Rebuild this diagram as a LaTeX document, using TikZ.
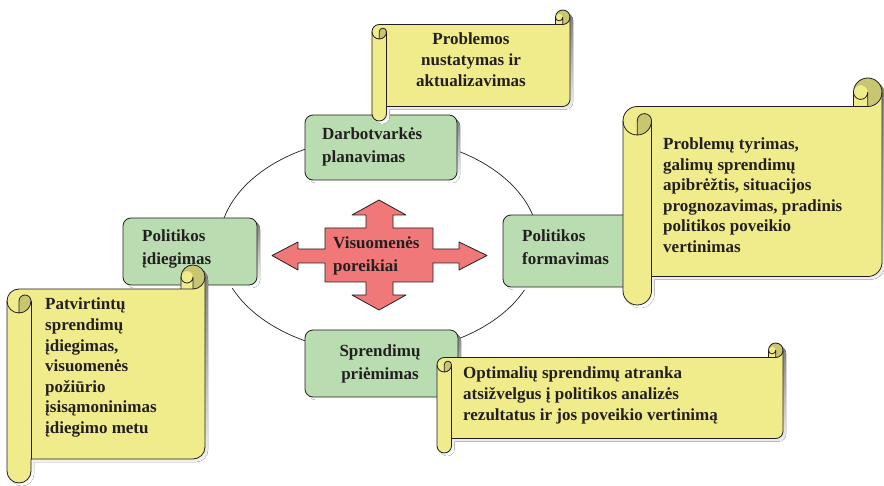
\documentclass[tikz,border=0pt]{standalone}
\usepackage{fontspec}
\setmainfont{Liberation Serif}
\definecolor{ink}{HTML}{231F20}
\definecolor{leaf}{HTML}{B9DDB1}
\definecolor{paper}{HTML}{F0EC8C}
\definecolor{paperdark}{HTML}{C9C671}
\definecolor{shade}{HTML}{8A8A8A}
\definecolor{alarm}{HTML}{F07878}

% Horizontal scroll: #1 left, #2 top, #3 right, #4 bottom, #5 roll diameter
\newcommand\drawscroll[5]{%
  \pgfmathsetmacro\scL{#1}\pgfmathsetmacro\scT{#2}%
  \pgfmathsetmacro\scR{#3}\pgfmathsetmacro\scB{#4}%
  \pgfmathsetmacro\scC{#5}%
  \pgfmathsetmacro\scH{\scC/2}\pgfmathsetmacro\scQ{\scC/4}%
  \pgfmathsetmacro\scXa{\scR-\scC}\pgfmathsetmacro\scXb{\scR-\scH}%
  \pgfmathsetmacro\scLh{\scL+\scH}\pgfmathsetmacro\scLc{\scL+\scC}%
  \pgfmathsetmacro\scTh{\scT+\scH}\pgfmathsetmacro\scTc{\scT+\scC}%
  \pgfmathsetmacro\scYa{\scT+\scC+\scH}\pgfmathsetmacro\scYb{\scT+2*\scC}%
  \pgfmathsetmacro\scYc{\scB-\scC-\scH}\pgfmathsetmacro\scYd{\scB-\scC}%
  \pgfmathsetmacro\scYe{\scB-\scH}%
  \def\scOutline{(\scL,\scYa) arc[start angle=180,end angle=270,radius=\scH]
    -- (\scXa,\scTc) -- (\scXa,\scTh) arc[start angle=180,end angle=360,radius=\scH]
    -- (\scR,\scYc) arc[start angle=0,end angle=90,radius=\scH]
    -- (\scLc,\scYd) -- (\scLc,\scYe) arc[start angle=0,end angle=180,radius=\scH]
    -- cycle}%
  \begin{scope}[shift={(3,3)}]
    \fill[shade] \scOutline;
  \end{scope}
  \fill[paper] \scOutline;
  \fill[paperdark] (\scXb,\scTc) arc[start angle=90,end angle=-180,radius=\scH]
    arc[start angle=180,end angle=360,radius=\scQ] -- cycle;
  \fill[paperdark] (\scLh,\scYb) arc[start angle=90,end angle=0,radius=\scH]
    arc[start angle=0,end angle=-180,radius=\scQ] -- cycle;
  \draw[edge] \scOutline;
  \draw[edge] (\scXa,\scTc) -- (\scXb,\scTc) arc[start angle=90,end angle=0,radius=\scH];
  \draw[edge] (\scXb,\scTc) -- (\scXb,\scTh) arc[start angle=0,end angle=180,radius=\scQ];
  \draw[edge] (\scLh,\scYb) -- (\scLh,\scYa) arc[start angle=180,end angle=360,radius=\scQ]
    arc[start angle=0,end angle=180,radius=\scH];
  \draw[edge] (\scLc,\scYa) -- (\scLc,\scYd);
}

% Rounded stage box with drop shadow: #1 left, #2 top, #3 right, #4 bottom
\newcommand\drawstage[4]{%
  \fill[shade, rounded corners=8pt] (#1+3,#2+3) rectangle (#3+3,#4+3);
  \draw[edge, fill=leaf, rounded corners=8pt] (#1,#2) rectangle (#3,#4);
}

\begin{document}
\begin{tikzpicture}[x=1pt,y=1pt,yscale=-1,
  edge/.style={draw=ink, line width=0.8pt, line join=round},
  scrolltext/.style={font=\bfseries\fontsize{17}{20.6}\selectfont, text=ink,
    inner sep=0pt, align=left, anchor=north west},
  stagetext/.style={font=\bfseries\fontsize{17}{22.6}\selectfont, text=ink,
    inner sep=0pt, align=left, anchor=north west}]
\useasboundingbox[fill=white] (0,0) rectangle (884,486);

% policy cycle
\draw[ink, line width=0.7pt] (379,245) ellipse [x radius=160, y radius=108];

% stages of the cycle
\drawstage{305}{115}{457}{180}
\drawstage{123}{218}{257}{285}
\drawstage{503}{215}{640}{287}
\drawstage{305}{330}{458}{397}

\node[stagetext] (plan) at (322,128) {Darbotvarkės\\planavimas};
\node[stagetext] (impl) at (142,230) {Politikos\\įdiegimas};
\node[stagetext] (form) at (522,230) {Politikos\\formavimas};
\node[stagetext, align=center, anchor=north] (decide) at (380,345) {Sprendimų\\priėmimas};

% four-way arrow in the middle
\draw[edge, fill=alarm] (379,200) -- (406,215) -- (393,215) -- (393,228) -- (433,228)
  -- (433,249) -- (459,249) -- (459,242) -- (487,255.5) -- (459,270) -- (459,263)
  -- (433,263) -- (433,282) -- (393,282) -- (393,295) -- (406,295) -- (379,310)
  -- (352,295) -- (366,295) -- (366,282) -- (325,282) -- (325,263) -- (298,263)
  -- (298,270) -- (272,255.5) -- (298,242) -- (298,249) -- (325,249) -- (325,228)
  -- (366,228) -- (366,215) -- (352,215) -- cycle;
\node[stagetext] (needs) at (333,237) {Visuomenės\\poreikiai};

% scrolls with the stage descriptions
\drawscroll{372}{10}{570}{121}{14.5}
\node[scrolltext, align=center, anchor=north] (agenda) at (471,33)
  {Problemos\\nustatymas ir\\aktualizavimas};

\drawscroll{623}{78}{882}{305}{28.5}
\node[scrolltext] (research) at (663,137.5)
  {Problemų tyrimas,\\galimų sprendimų\\apibrėžtis, situacijos\\prognozavimas, pradinis\\politikos poveikio\\vertinimas};

\drawscroll{7}{265}{205}{483}{24}
\node[scrolltext] (rollout) at (45,298)
  {Patvirtintų\\sprendimų\\įdiegimas,\\visuomenės\\požiūrio\\įsisąmoninimas\\įdiegimo metu};

\drawscroll{437}{343}{783}{453}{14.5}
\node[scrolltext] (choice) at (463,367)
  {Optimalių sprendimų atranka\\atsižvelgus į politikos analizės\\rezultatus ir jos poveikio vertinimą};
\end{tikzpicture}
\end{document}
